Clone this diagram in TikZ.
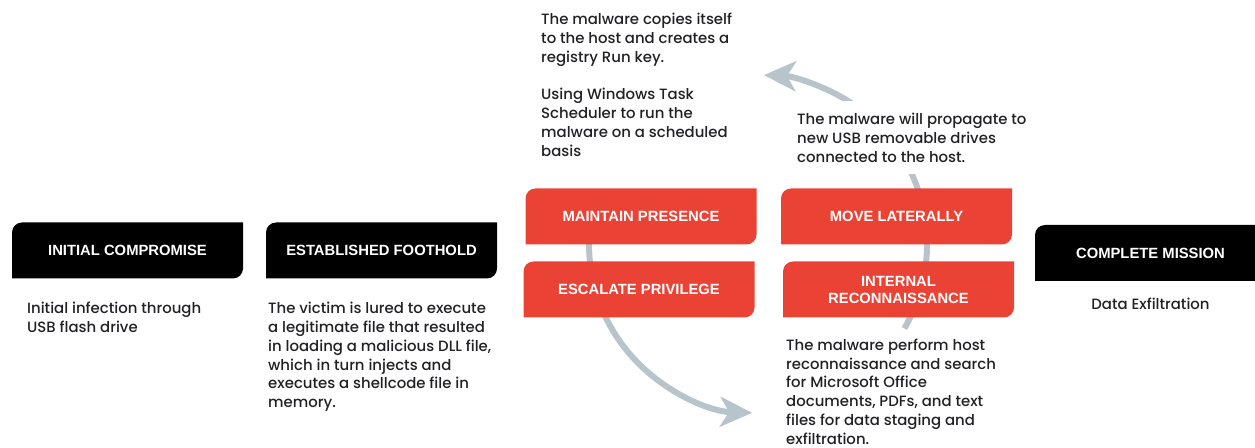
\documentclass[tikz,border=0pt]{standalone}
\usepackage{fontspec}
\setmainfont{Poppins}[UprightFont=* Medium]
\newfontfamily\boxfont{Liberation Sans}
\usetikzlibrary{arrows.meta}
\definecolor{stagered}{HTML}{EA4335}
\definecolor{cyclegray}{HTML}{B8C4CC}
\definecolor{inktext}{HTML}{202124}

\begin{document}
\begin{tikzpicture}[x=1pt,y=1pt,
    stage/.style={minimum width=231pt, minimum height=56pt, inner sep=0pt, text=white, align=center,
        font=\boxfont\bfseries\fontsize{14.8}{17}\selectfont,
        path picture={\fill[#1] (path picture bounding box.south west)
            -- ([yshift=-10pt]path picture bounding box.north west) arc[start angle=180, end angle=90, radius=10pt]
            -- (path picture bounding box.north east)
            -- ([yshift=10pt]path picture bounding box.south east) arc[start angle=0, end angle=-90, radius=10pt]
            -- cycle;}},
    desc/.style={inner sep=0pt, align=left, text=inktext, font=\fontsize{14.9}{18.8}\selectfont},
    cyclearrow/.style={cyclegray, line width=6pt, -{Stealth[length=32pt, width=30pt, inset=9pt]}}]
        \useasboundingbox (0,0) rectangle (1255,447);
        \clip (0,0) rectangle (1255,447);

        % the loop round the four red stages
        \coordinate (hub) at (758,203);
        \draw[cyclearrow] ([shift={(165:169)}]hub) arc[start angle=165, end angle=268, radius=169];
        \draw[cyclearrow] ([shift={(-30:169)}]hub) arc[start angle=-30, end angle=88, radius=169];

        \node[stage=black] (initial) at (127.5,196.5) {INITIAL COMPROMISE};
        \node[stage=black] (foothold) at (381.5,196.5) {ESTABLISHED FOOTHOLD};
        \node[stage=stagered] (presence) at (641,230.5) {MAINTAIN PRESENCE};
        \node[stage=stagered] (privilege) at (639,157.5) {ESCALATE PRIVILEGE};
        \node[stage=stagered] (lateral) at (896.5,230.5) {MOVE LATERALLY};
        \node[stage=stagered] (recon) at (898.5,157.5) {INTERNAL\\RECONNAISSANCE};
        \node[stage=black] (mission) at (1150.5,194) {COMPLETE MISSION};

        \node[desc, anchor=north west] (initialtext) at (27,145) {Initial infection through\\USB flash drive};
        \node[desc, anchor=north west] (foottext) at (268,145) {The victim is lured to execute\\a legitimate file that resulted\\in loading a malicious DLL file,\\which in turn injects and\\executes a shellcode file in\\memory.};
        \node[desc, anchor=north west] (presencetext) at (541,434) {The malware copies itself\\to the host and creates a\\registry Run key.\\[\baselineskip]Using Windows Task\\Scheduler to run the\\malware on a scheduled\\basis};
        \node[desc, anchor=north west, fill=white, inner xsep=6pt, inner ysep=12pt] (lateraltext) at (791,346) {The malware will propagate to\\new USB removable drives\\connected to the host.};
        \node[desc, anchor=north west] (recontext) at (786,108.5) {The malware perform host\\reconnaissance and search\\for Microsoft Office\\documents, PDFs, and text\\files for data staging and\\exfiltration.};
        \node[desc] (missiontext) at (1150.5,143) {Data Exfiltration};
\end{tikzpicture}
\end{document}
